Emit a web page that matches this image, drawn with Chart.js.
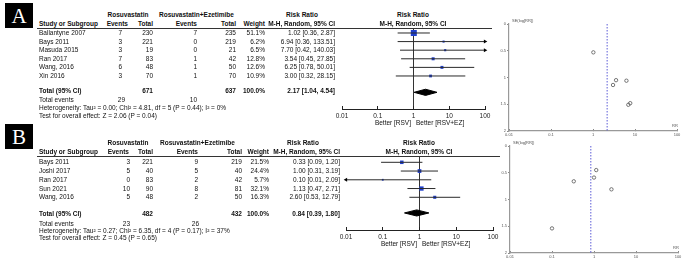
<!DOCTYPE html>
<html lang="en">
<head>
<meta charset="UTF-8">
<title>Rosuvastatin vs Rosuvastatin+Ezetimibe - forest and funnel plots</title>
<script src="https://cdn.jsdelivr.net/npm/chart.js@4.4.0/dist/chart.umd.min.js"></script>
<style>
  body { margin: 0; width: 685px; height: 264px; overflow: hidden; position: relative; background: #fff;
         font-family: "Liberation Sans", Arial, sans-serif; }
  .t { position: absolute; font-size: 6.5px; line-height: 8px; white-space: nowrap; color: #111; }
  .b { font-weight: bold; }
  .r { transform: translateX(-100%); }
  .c { transform: translateX(-50%); }
  .tiny { font-size: 4px; line-height: 6px; color: #555; }
  .tag { position: absolute; width: 28px; height: 25px; background: #000; color: #fff; text-align: center;
         font-family: "Liberation Serif", "DejaVu Serif", serif; font-size: 21px; line-height: 26px; }
  .rule { position: absolute; height: 1px; background: #333; }
  canvas { position: absolute; }
</style>
</head>
<body>
  <div class="tag" style="left:5px;top:3px">A</div>
  <div class="tag" style="left:5px;top:124px">B</div>
  <div class="rule" style="left:37px;top:28px;width:455px"></div>
  <div class="rule" style="left:37px;top:156px;width:463px"></div>

  <canvas id="forestA" width="185" height="120" style="left:320px;top:20px"></canvas>
  <canvas id="forestB" width="190" height="105" style="left:325px;top:148px"></canvas>
  <canvas id="funnelA" width="195" height="130" style="left:490px;top:14px"></canvas>
  <canvas id="funnelB" width="195" height="127" style="left:490px;top:136px"></canvas>

<script>
  const FONT = '"Liberation Sans", Arial, sans-serif';
  const XMIN = 0.01, XMAX = 100;
  const logTicks = [0.01, 0.1, 1, 10, 100];
  const seTicks = [0, 0.5, 1, 1.5, 2];

  // --- Panel A: adverse events ---
  const studiesA = ['Ballantyne 2007', 'Bays 2011', 'Masuda 2015', 'Ran 2017', 'Wang, 2016', 'Xin 2016'];
  const rsvEventsA = [7, 3, 3, 7, 6, 3];
  const rsvTotalA = [230, 221, 19, 83, 48, 70];
  const ezEventsA = [7, 0, 0, 1, 1, 1];
  const ezTotalA = [235, 219, 21, 42, 50, 70];
  const weightA = [51.1, 6.2, 6.5, 12.8, 12.6, 10.9];
  const rrA = [1.02, 6.94, 7.70, 3.54, 6.25, 3.00];
  const loA = [0.36, 0.36, 0.42, 0.45, 0.78, 0.32];
  const hiA = [2.87, 133.51, 140.03, 27.85, 50.01, 28.15];
  const seA = [0.53, 1.51, 1.48, 1.05, 1.06, 1.14];
  const pooledA = [2.17, 1.04, 4.54];
  const totalsA = [671, 637, 29, 10];
  const hetA = 'Heterogeneity: Tau² = 0.00; Chi² = 4.81, df = 5 (P = 0.44); I² = 0%';
  const testA = 'Test for overall effect: Z = 2.06 (P = 0.04)';

  // --- Panel B ---
  const studiesB = ['Bays 2011', 'Joshi 2017', 'Ran 2017', 'Sun 2021', 'Wang, 2016'];
  const rsvEventsB = [3, 5, 0, 10, 5];
  const rsvTotalB = [221, 40, 83, 90, 48];
  const ezEventsB = [9, 5, 2, 8, 2];
  const ezTotalB = [219, 40, 42, 81, 50];
  const weightB = [21.5, 24.4, 5.7, 32.1, 16.3];
  const rrB = [0.33, 1.00, 0.10, 1.13, 2.60];
  const loB = [0.09, 0.31, 0.01, 0.47, 0.53];
  const hiB = [1.20, 3.19, 2.09, 2.71, 12.79];
  const seB = [0.66, 0.59, 1.54, 0.45, 0.81];
  const pooledB = [0.84, 0.39, 1.80];
  const totalsB = [482, 432, 23, 26];
  const hetB = 'Heterogeneity: Tau² = 0.27; Chi² = 6.35, df = 4 (P = 0.17); I² = 37%';
  const testB = 'Test for overall effect: Z = 0.45 (P = 0.65)';

  // text helper: x is the anchor, y the vertical centre of the line
  function put(x, y, s, cls) {
    const d = document.createElement('div');
    d.className = 't ' + (cls || '');
    d.style.left = x + 'px';
    d.style.top = (y - 4) + 'px';
    d.textContent = s;
    document.body.appendChild(d);
  }
  const ci = (v, l, h) => `${v.toFixed(2)} [${l.toFixed(2)}, ${h.toFixed(2)}]`;

  function drawTable(p) {
    const c = p.col;
    put(128, p.h1, 'Rosuvastatin', 'b c');
    put(c.ezLabel, p.h1, 'Rosuvastatin+Ezetimibe', 'b');
    put(c.rrHead, p.h1, 'Risk Ratio', 'b c');
    put(c.plot, p.h1, 'Risk Ratio', 'b c');
    put(39, p.h2, 'Study or Subgroup', 'b');
    put(c.evHead, p.h2, 'Events', 'b r');
    put(153, p.h2, 'Total', 'b r');
    put(c.ezEv, p.h2, 'Events', 'b r');
    put(c.ezTot, p.h2, 'Total', 'b r');
    put(c.weight, p.h2, 'Weight', 'b r');
    put(c.rr, p.h2, 'M-H, Random, 95% CI', 'b r');
    put(c.plot, p.h2, 'M-H, Random, 95% CI', 'b c');
    p.studies.forEach((s, i) => {
      const y = p.row0 + i * p.step;
      put(39, y, s);
      put(c.rsvEv, y, String(p.rsvEv[i]), 'r');
      put(153, y, String(p.rsvTot[i]), 'r');
      put(c.ezEv, y, String(p.ezEv[i]), 'r');
      put(c.ezTot, y, String(p.ezTot[i]), 'r');
      put(c.weight, y, p.weight[i].toFixed(1) + '%', 'r');
      put(c.rr, y, ci(p.rr[i], p.lo[i], p.hi[i]), 'r');
    });
    put(39, p.totY, 'Total (95% CI)', 'b');
    put(153, p.totY, String(p.totals[0]), 'b r');
    put(c.ezTot, p.totY, String(p.totals[1]), 'b r');
    put(c.weight, p.totY, '100.0%', 'b r');
    put(c.rr, p.totY, ci(p.pooled[0], p.pooled[1], p.pooled[2]), 'b r');
    put(39, p.evY, 'Total events');
    put(c.totEv, p.evY, String(p.totals[2]), 'r');
    put(c.totEz, p.evY, String(p.totals[3]), 'r');
    put(39, p.hetY, p.het);
    put(39, p.testY, p.test);
    put(c.plot - 2, p.betterY, 'Better [RSV]', 'r');
    put(c.plot + 3, p.betterY, 'Better [RSV+EZ]');
  }

  drawTable({
    studies: studiesA, rsvEv: rsvEventsA, rsvTot: rsvTotalA, ezEv: ezEventsA, ezTot: ezTotalA,
    weight: weightA, rr: rrA, lo: loA, hi: hiA, pooled: pooledA, totals: totalsA, het: hetA, test: testA,
    h1: 15, h2: 24, row0: 33, step: 8.6, totY: 91, evY: 100, hetY: 107.5, testY: 115.5, betterY: 123.3,
    col: { ezLabel: 159, rrHead: 302, plot: 413, evHead: 128, rsvEv: 122, ezEv: 197, ezTot: 236,
           weight: 265, rr: 335, totEv: 125, totEz: 197 }
  });
  drawTable({
    studies: studiesB, rsvEv: rsvEventsB, rsvTot: rsvTotalB, ezEv: ezEventsB, ezTot: ezTotalB,
    weight: weightB, rr: rrB, lo: loB, hi: hiB, pooled: pooledB, totals: totalsB, het: hetB, test: testB,
    h1: 143.3, h2: 152.3, row0: 162.3, step: 8.75, totY: 214, evY: 224, hetY: 230.5, testY: 238, betterY: 244,
    col: { ezLabel: 160, rrHead: 303, plot: 419, evHead: 129, rsvEv: 130, ezEv: 198, ezTot: 242,
           weight: 269, rr: 340, totEv: 130, totEz: 199 }
  });

  // funnel labels
  put(512, 22, 'SE(log[RR])', 'tiny');
  put(672, 127, 'RR', 'tiny');
  put(513, 144, 'SE(log[RR])', 'tiny');
  put(673, 249, 'RR', 'tiny');

  const fixLogTicks = s => { s.ticks = logTicks.map(v => ({ value: v })); };

  function forestChart(id, d) {
    const maxW = Math.max(...d.weight);
    const datasets = [];
    // confidence intervals, arrows where they run off the axis
    d.rr.forEach((v, i) => {
      const lowArrow = d.lo[i] <= XMIN, highArrow = d.hi[i] >= XMAX;
      datasets.push({
        data: [{ x: Math.max(d.lo[i], XMIN), y: i }, { x: Math.min(d.hi[i], XMAX), y: i }],
        showLine: true, borderColor: '#2a2a2a', borderWidth: 1,
        pointStyle: 'triangle', pointRotation: [-90, 90],
        pointRadius: [lowArrow ? 2.3 : 0, highArrow ? 2.3 : 0],
        pointBackgroundColor: '#000', pointBorderWidth: 0, clip: false
      });
    });
    // study squares, area by weight
    datasets.push({
      data: d.rr.map((v, i) => ({ x: v, y: i })),
      pointStyle: 'rect',
      pointRadius: d.weight.map(w => d.box * Math.sqrt(w / maxW) / Math.SQRT2),
      pointBackgroundColor: '#1f3fcc', pointBorderWidth: 0
    });
    // pooled diamond (upper half filled down to lower half)
    const [est, lo, hi] = d.pooled;
    const t = d.totalRow, h = d.diamondH;
    datasets.push({
      data: [{ x: lo, y: t }, { x: est, y: t - h }, { x: hi, y: t }],
      showLine: true, borderColor: '#000', borderWidth: 1, pointRadius: 0,
      fill: '+1', backgroundColor: '#000'
    });
    datasets.push({
      data: [{ x: lo, y: t }, { x: est, y: t + h }, { x: hi, y: t }],
      showLine: true, borderColor: '#000', borderWidth: 1, pointRadius: 0
    });

    return new Chart(document.getElementById(id), {
      type: 'scatter',
      data: { datasets },
      options: {
        responsive: false, animation: false, events: [],
        layout: { padding: d.pad },
        plugins: { legend: { display: false }, tooltip: { enabled: false } },
        scales: {
          x: {
            type: 'logarithmic', min: XMIN, max: XMAX,
            afterBuildTicks: fixLogTicks,
            afterFit: s => { s.height = 20; },
            ticks: { callback: v => String(v), font: { size: 6.5, family: FONT }, color: '#222',
                     padding: 6, maxRotation: 0, autoSkip: false },
            grid: { color: c => (c.tick && c.tick.value === 1 ? '#333' : 'rgba(0,0,0,0)'),
                    tickColor: '#222', tickLength: -3, lineWidth: 1 },
            border: { color: '#222', width: 1 }
          },
          y: { type: 'linear', display: false, reverse: true, min: d.yMin, max: d.yMax }
        }
      }
    });
  }

  function funnelChart(id, se, rr, pooled, pad) {
    return new Chart(document.getElementById(id), {
      type: 'scatter',
      data: {
        datasets: [
          { data: rr.map((v, i) => ({ x: v, y: se[i] })), pointStyle: 'circle', pointRadius: 1.7,
            pointBackgroundColor: 'rgba(0,0,0,0)', pointBorderColor: '#555', pointBorderWidth: 0.8 },
          { data: [{ x: pooled, y: 0 }, { x: pooled, y: 2 }], showLine: true, borderColor: '#5b5bd6',
            borderWidth: 1, borderDash: [1.5, 1.5], pointRadius: 0 }
        ]
      },
      options: {
        responsive: false, animation: false, events: [],
        layout: { padding: pad },
        plugins: { legend: { display: false }, tooltip: { enabled: false } },
        scales: {
          x: {
            type: 'logarithmic', min: XMIN, max: XMAX,
            afterBuildTicks: fixLogTicks,
            afterFit: s => { s.height = 10; },
            ticks: { callback: v => String(v), font: { size: 4, family: FONT }, color: '#555',
                     padding: 3, maxRotation: 0, autoSkip: false },
            grid: { drawOnChartArea: false, tickLength: -2, tickColor: '#888' },
            border: { color: '#999', width: 1.2 }
          },
          y: {
            min: 0, max: 2, reverse: true,
            afterBuildTicks: s => { s.ticks = seTicks.map(v => ({ value: v })); },
            afterFit: s => { s.width = 12; },
            ticks: { callback: v => String(v), font: { size: 4, family: FONT }, color: '#555', padding: 1 },
            grid: { drawOnChartArea: false, tickLength: 2, tickColor: '#888' },
            border: { color: '#999', width: 1.2 }
          }
        }
      }
    });
  }

  forestChart('forestA', {
    rr: rrA, lo: loA, hi: hiA, weight: weightA, pooled: pooledA, box: 6,
    totalRow: 6.9, diamondH: 0.36, yMin: -0.58, yMax: 8.84,
    pad: { left: 22, right: 20, top: 8, bottom: 11 }
  });
  forestChart('forestB', {
    rr: rrB, lo: loB, hi: hiB, weight: weightB, pooled: pooledB, box: 4.3,
    totalRow: 5.79, diamondH: 0.35, yMin: -0.72, yMax: 7.74,
    pad: { left: 21, right: 22, top: 8, bottom: 3 }
  });
  funnelChart('funnelA', seA, rrA, pooledA[0], { left: 7, right: 8, top: 10, bottom: 3 });
  funnelChart('funnelB', seB, rrB, pooledB[0], { left: 8, right: 7, top: 10, bottom: 0 });
</script>
</body>
</html>
